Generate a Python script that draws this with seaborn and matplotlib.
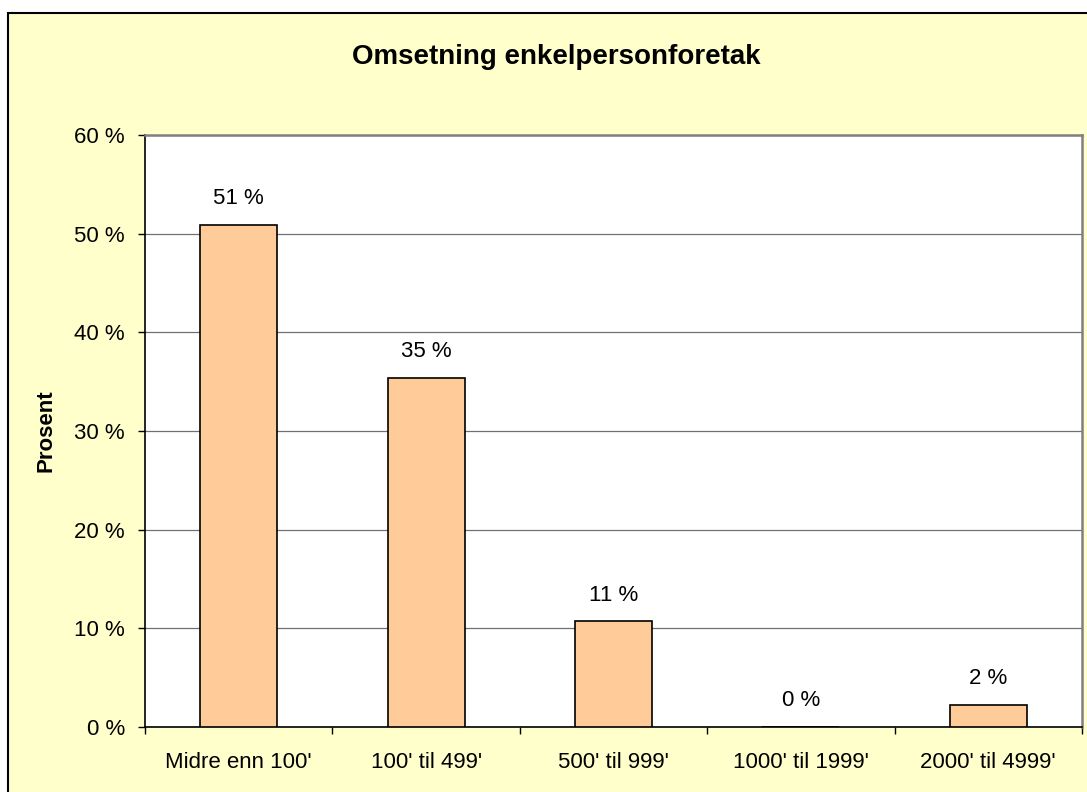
import matplotlib
matplotlib.use("Agg")
import matplotlib.pyplot as plt
import matplotlib.patches as mpatches
import seaborn as sns
import pandas as pd
import numpy as np

categories = ["Midre enn 100'", "100' til 499'", "500' til 999'", "1000' til 1999'", "2000' til 4999'"]
values = [50.9, 35.4, 10.7, 0.0, 2.2]
value_labels = ["51 %", "35 %", "11 %", "0 %", "2 %"]
yticks = [0, 10, 20, 30, 40, 50, 60]
ytick_labels = ["0 %", "10 %", "20 %", "30 %", "40 %", "50 %", "60 %"]
title = "Omsetning enkelpersonforetak"
ylabel = "Prosent"

sns.set_style("white")
plt.rcParams['font.family'] = ['Liberation Sans', 'DejaVu Sans']
plt.rcParams['text.color'] = 'black'
plt.rcParams['axes.labelcolor'] = 'black'
plt.rcParams['xtick.color'] = 'black'
plt.rcParams['ytick.color'] = 'black'

W, H = 1087, 792
fig = plt.figure(figsize=(W / 100, H / 100), dpi=100, facecolor="white")

# chart area background (yellow with black border)
bg = mpatches.Rectangle((8 / W, -0.05), 1.1, (H - 13) / H + 0.05,
                        transform=fig.transFigure, facecolor="#FFFFCC",
                        edgecolor="black", linewidth=1.5, zorder=0)
fig.patches.append(bg)

ax = fig.add_axes([145 / W, (H - 727) / H, 937 / W, 592 / H])
ax.set_zorder(2)
ax.set_facecolor("white")

df = pd.DataFrame({"cat": categories, "val": values})
sns.barplot(data=df, x="cat", y="val", order=categories, color="#FFCC99",
            edgecolor="black", linewidth=1.2, width=0.41, saturation=1,
            ax=ax, zorder=3)

ax.set_xlim(-0.5, 4.5)
ax.set_ylim(0, 60)
ax.set_yticks(yticks)
ax.set_yticklabels(ytick_labels, fontsize=16)
ax.yaxis.grid(True, color="#707070", linewidth=0.9, zorder=0)
ax.set_axisbelow(True)

# x ticks at category boundaries, labels at centres
ax.set_xticks(np.arange(-0.5, 5.0, 1.0))
ax.set_xticklabels([])
ax.set_xticks(np.arange(5), minor=True)
ax.set_xticklabels(categories, minor=True, fontsize=16)
ax.tick_params(axis="x", which="major", length=5, width=1, color="black", direction="out", bottom=True)
ax.tick_params(axis="x", which="minor", length=0, pad=18)
ax.tick_params(axis="y", length=5, width=1, color="black", direction="out", left=True, pad=9.5)

ax.set_xlabel("")
ax.set_ylabel(ylabel, fontsize=16, fontweight="bold")
ax.yaxis.set_label_coords(-0.094, 0.5)

for s in ["left", "bottom"]:
    ax.spines[s].set_color("black")
    ax.spines[s].set_linewidth(1.2)
for s in ["top", "right"]:
    ax.spines[s].set_color("#808080")
    ax.spines[s].set_linewidth(1.8)
    ax.spines[s].set_visible(True)

for i, (v, lab) in enumerate(zip(values, value_labels)):
    ax.annotate(lab, xy=(i, v), xytext=(0, 19), textcoords="offset points",
                ha="center", va="center", fontsize=16, zorder=5)

fig.text(556 / W, (H - 57) / H, title, ha="center", va="center",
         fontsize=20, fontweight="bold")

fig.savefig("out.png", dpi=100, facecolor="white")
